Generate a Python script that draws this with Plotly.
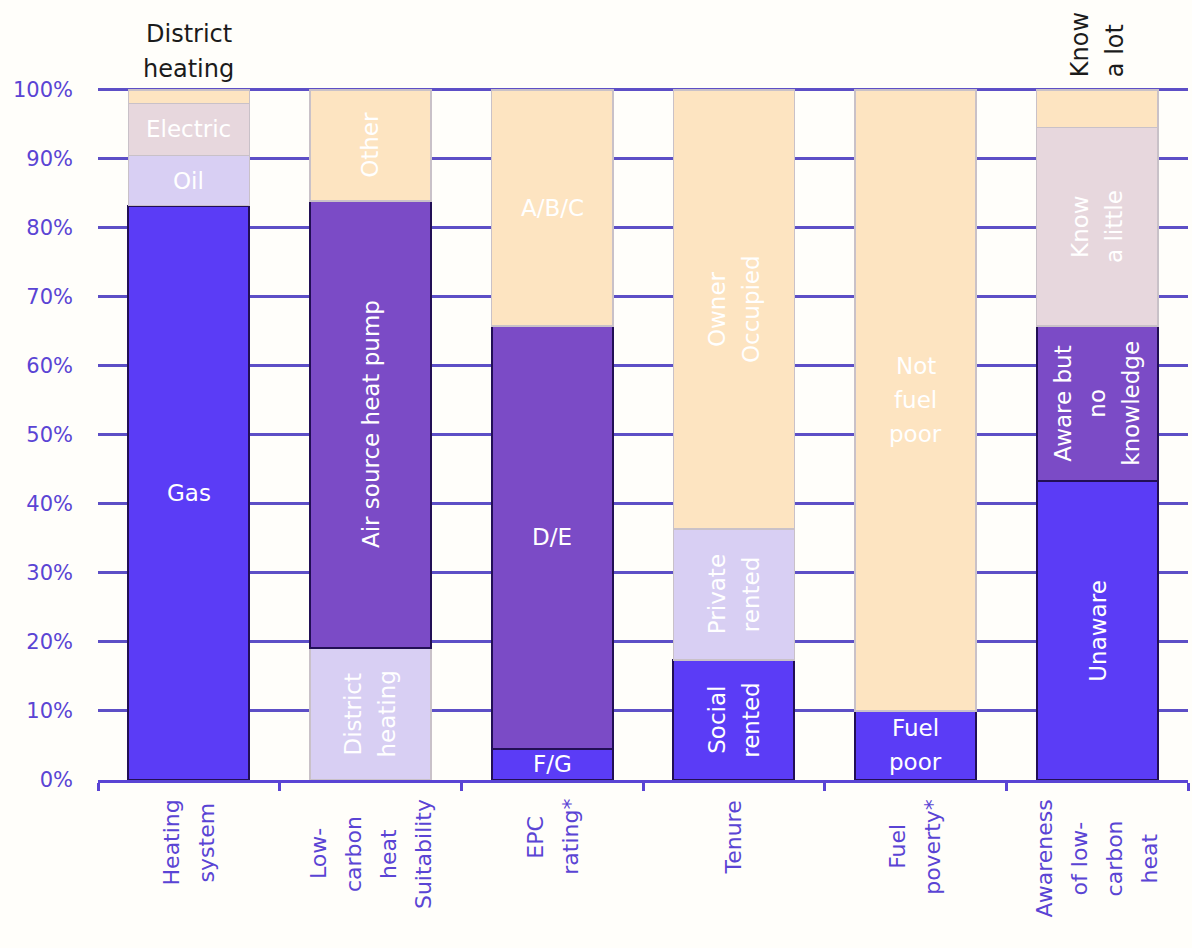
import plotly.graph_objects as go

# ---- data (percent of households) ----
categories = [
    "Heating system",
    "Low-carbon heat Suitability",
    "EPC rating*",
    "Tenure",
    "Fuel poverty*",
    "Awareness of low-carbon heat",
]
axis_label_lines = [
    ["Heating", "system"],
    ["Low-", "carbon", "heat", "Suitability"],
    ["EPC", "rating*"],
    ["Tenure"],
    ["Fuel", "poverty*"],
    ["Awareness", "of low-", "carbon", "heat"],
]

heating_names = ["Gas", "Oil", "Electric", "District\nheating"]
heating_values = [83.2, 7.3, 7.5, 2.0]

suitability_names = ["District\nheating", "Air source heat pump", "Other"]
suitability_values = [19.1, 64.8, 16.1]

epc_names = ["F/G", "D/E", "A/B/C"]
epc_values = [4.5, 61.3, 34.2]

tenure_names = ["Social\nrented", "Private\nrented", "Owner\nOccupied"]
tenure_values = [17.4, 19.0, 63.6]

fuel_names = ["Fuel\npoor", "Not\nfuel\npoor"]
fuel_values = [10.0, 90.0]

awareness_names = ["Unaware", "Aware but\nno\nknowledge", "Know\na little", "Know\na lot"]
awareness_values = [43.3, 22.5, 28.7, 5.5]

y_ticks = [0, 10, 20, 30, 40, 50, 60, 70, 80, 90, 100]
y_tick_text = [f"{v}%" for v in y_ticks]

# ---- styling ----
BLUE = "#5b3cf6"
PURPLE = "#7b4bc6"
LAVENDER = "#d8cff3"
MAUVE = "#e7d7dd"
PEACH = "#fde4c1"
DARK_EDGE = "#220f55"
LIGHT_EDGE = "#c9c1c8"
AXIS_PURPLE = "#5a44d4"
GRID_PURPLE = "#5d4fc6"
BG = "#fffefa"
FONT = "DejaVu Sans"

heating_colors = [BLUE, LAVENDER, MAUVE, PEACH]
suitability_colors = [LAVENDER, PURPLE, PEACH]
epc_colors = [BLUE, PURPLE, PEACH]
tenure_colors = [BLUE, LAVENDER, PEACH]
fuel_colors = [BLUE, PEACH]
awareness_colors = [BLUE, PURPLE, MAUVE, PEACH]

# label orientation per segment: "h" horizontal, "v" vertical
heating_orient = ["h", "h", "h", "h"]
suitability_orient = ["v", "v", "v"]
epc_orient = ["h", "h", "h"]
tenure_orient = ["v", "v", "v"]
fuel_orient = ["h", "h"]
awareness_orient = ["v", "v", "v", "v"]

groups = [
    (categories[0], heating_names, heating_values, heating_colors, heating_orient),
    (categories[1], suitability_names, suitability_values, suitability_colors, suitability_orient),
    (categories[2], epc_names, epc_values, epc_colors, epc_orient),
    (categories[3], tenure_names, tenure_values, tenure_colors, tenure_orient),
    (categories[4], fuel_names, fuel_values, fuel_colors, fuel_orient),
    (categories[5], awareness_names, awareness_values, awareness_colors, awareness_orient),
]
# thin top segments whose label sits above the bar
labelled_above = {categories[0]: "District\nheating", categories[5]: "Know\na lot"}

BAR_LABEL_SIZE = 23
AXIS_LABEL_SIZE = 22
ABOVE_LABEL_SIZE = 24
LINE_STEP = 35

# rough DejaVu Sans advance widths (em) for centring rotated multi-line labels
GLYPH_EM = {
    " ": 0.318, "-": 0.361, "*": 0.5, "A": 0.684, "C": 0.698, "E": 0.632,
    "F": 0.575, "H": 0.752, "L": 0.557, "P": 0.603, "S": 0.635, "T": 0.611,
    "a": 0.613, "b": 0.635, "c": 0.55, "d": 0.635, "e": 0.615, "f": 0.352,
    "g": 0.635, "h": 0.634, "i": 0.278, "k": 0.579, "l": 0.278, "m": 0.974,
    "n": 0.634, "o": 0.612, "p": 0.635, "r": 0.411, "s": 0.521, "t": 0.392,
    "u": 0.634, "v": 0.592, "w": 0.818, "y": 0.592,
}


def text_px(s, size):
    return sum(GLYPH_EM.get(ch, 0.6) for ch in s) * size


fig = go.Figure()
annotations = []


def add_lines(x, y, lines, vertical, color, size, yref="y", yanchor="middle",
              yshift=0.0, step=LINE_STEP):
    n = len(lines)
    for i, line in enumerate(lines):
        off = (i - (n - 1) / 2) * step
        annotations.append(dict(
            x=x, y=y, xref="x", yref=yref, text=line, showarrow=False,
            textangle=-90 if vertical else 0,
            xanchor="center", yanchor=yanchor,
            xshift=off if vertical else 0,
            yshift=yshift if vertical else yshift - off,
            font=dict(family=FONT, size=size, color=color),
        ))


for cat, names, values, colors, orient in groups:
    base = 0.0
    for name, val, col, ori in zip(names, values, colors, orient):
        dark = col in (BLUE, PURPLE)
        fig.add_trace(go.Bar(
            x=[cat], y=[val], name=name.replace("\n", " "),
            marker=dict(color=col,
                        line=dict(color=DARK_EDGE if dark else LIGHT_EDGE,
                                  width=2 if dark else 1.5)),
            showlegend=False, hoverinfo="skip",
        ))
        lines = name.split("\n")
        if labelled_above.get(cat) == name:
            if ori == "v":
                add_lines(cat, 1, lines, True, "#1b1b1b", ABOVE_LABEL_SIZE,
                          yref="paper", yanchor="bottom", yshift=8)
            else:
                add_lines(cat, 1, lines, False, "#1b1b1b", ABOVE_LABEL_SIZE,
                          yref="paper", yanchor="middle", yshift=36)
        else:
            add_lines(cat, base + val / 2, lines, ori == "v", "#ffffff",
                      BAR_LABEL_SIZE, step=34)
        base += val

# category labels under the axis, centred line against line
for cat, lines in zip(categories, axis_label_lines):
    longest = max(text_px(s, AXIS_LABEL_SIZE) for s in lines)
    add_lines(cat, 0, lines, True, AXIS_PURPLE, AXIS_LABEL_SIZE, yref="paper",
              yanchor="middle", yshift=-(19 + longest / 2))

fig.update_layout(
    barmode="stack",
    bargap=0.333,
    width=1192,
    height=948,
    margin=dict(l=98, r=4, t=87, b=168),
    paper_bgcolor=BG,
    plot_bgcolor=BG,
    font=dict(family=FONT, size=21, color=AXIS_PURPLE),
    annotations=annotations,
    xaxis=dict(
        type="category",
        showticklabels=False,
        showgrid=False,
        showline=True, linecolor=AXIS_PURPLE, linewidth=2.5,
        ticks="outside", tickson="boundaries", ticklen=8,
        tickwidth=2.5, tickcolor=AXIS_PURPLE,
    ),
    yaxis=dict(
        range=[0, 100.4],
        tickvals=y_ticks, ticktext=y_tick_text,
        tickfont=dict(family=FONT, size=21, color=AXIS_PURPLE),
        showgrid=True, gridcolor=GRID_PURPLE, gridwidth=2.5,
        zeroline=False, showline=False, ticks="",
        ticklabelstandoff=24,
    ),
)

fig.write_html("out.html")
